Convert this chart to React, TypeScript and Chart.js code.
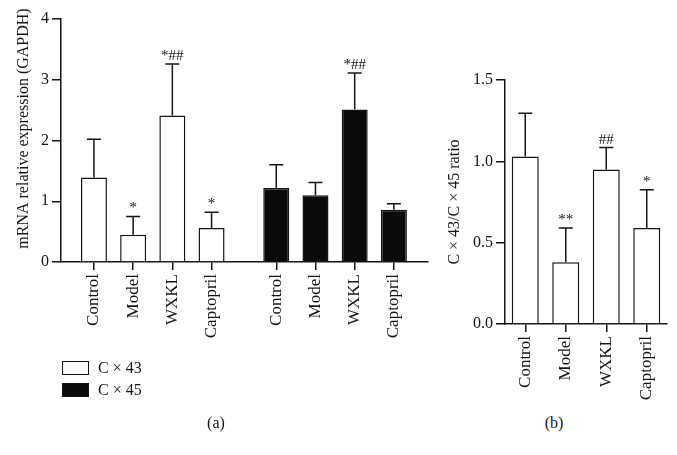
import React, { useEffect, useRef } from "react";
import { Chart, registerables } from "chart.js";

Chart.register(...registerables);

// ---- data ----
const groups = ["Control", "Model", "WXKL", "Captopril"];
const cx43Mean = [1.39, 0.45, 2.41, 0.56];
const cx43Err = [0.63, 0.3, 0.85, 0.26];
const cx43Marks = ["", "*", "*##", "*"];
const cx45Mean = [1.22, 1.1, 2.51, 0.86];
const cx45Err = [0.38, 0.21, 0.6, 0.1];
const cx45Marks = ["", "", "*##", ""];
const ratioMean = [1.03, 0.38, 0.95, 0.59];
const ratioErr = [0.265, 0.21, 0.135, 0.235];
const ratioMarks = ["", "**", "##", "*"];
const seriesNames = ["C × 43", "C × 45"];
const yTitleA = "mRNA relative expression (GAPDH)";
const yTitleB = "C × 43/C × 45 ratio";

// layout constants
const INK = "#151515";
const FONT = "'Liberation Serif', 'Times New Roman', serif";
const secondGroupStart = 4.65;
const posA = groups.map((_, i) => i);
const posB = groups.map((_, i) => secondGroupStart + i);
const allPos = [...posA, ...posB];
const allLabels = [...groups, ...groups];
const titleShift = "\u2002\u2002\u2002"; // nudges the left title toward the top

Chart.defaults.font.family = FONT;
Chart.defaults.color = INK;

const errorBarPlugin = {
  id: "errorBars",
  afterDatasetsDraw(chart: any) {
    const ctx = chart.ctx;
    const yScale = chart.scales.y;
    chart.data.datasets.forEach((ds: any, di: number) => {
      const meta = chart.getDatasetMeta(di);
      meta.data.forEach((bar: any, i: number) => {
        const d = ds.data[i];
        const v = typeof d === "number" ? d : d.y;
        const err = ds.errors ? ds.errors[i] : 0;
        const top = yScale.getPixelForValue(v + err);
        ctx.save();
        ctx.strokeStyle = INK;
        ctx.lineWidth = 1.5;
        ctx.beginPath();
        ctx.moveTo(bar.x, bar.y);
        ctx.lineTo(bar.x, top);
        ctx.moveTo(bar.x - 7, top);
        ctx.lineTo(bar.x + 7, top);
        ctx.stroke();
        const mark = ds.marks ? ds.marks[i] : "";
        if (mark) {
          ctx.fillStyle = INK;
          ctx.font = `15px ${FONT}`;
          ctx.textAlign = "center";
          ctx.textBaseline = "alphabetic";
          ctx.fillText(mark, bar.x, top - 4);
        }
        ctx.restore();
      });
    });
  },
};

function yAxis(min: number, max: number, step: number, title: string, width: number, titlePad: number, fmt?: (v: number) => string) {
  return {
    min,
    max,
    grid: { drawOnChartArea: false, drawTicks: true, tickLength: 9, color: INK, lineWidth: 1.5 },
    border: { color: INK, width: 1.5 },
    ticks: {
      stepSize: step,
      padding: 3,
      color: INK,
      font: { size: 16 },
      callback: (v: any) => (fmt ? fmt(Number(v)) : String(v)),
    },
    title: { display: true, text: title, color: INK, font: { size: 16 }, padding: { top: titlePad, bottom: 0 } },
    afterFit: (s: any) => {
      s.width = width;
    },
  };
}

export default function App() {
  const refA = useRef<HTMLCanvasElement>(null);
  const refB = useRef<HTMLCanvasElement>(null);

  useEffect(() => {
    const chartA = new Chart(refA.current!, {
      type: "bar",
      data: {
        datasets: [
          {
            label: seriesNames[0],
            data: cx43Mean.map((y, i) => ({ x: posA[i], y })),
            errors: cx43Err,
            marks: cx43Marks,
            backgroundColor: "#ffffff",
            borderColor: INK,
            borderWidth: 1.5,
            grouped: false,
            categoryPercentage: 1,
            barPercentage: 0.9,
            maxBarThickness: 26,
          } as any,
          {
            label: seriesNames[1],
            data: cx45Mean.map((y, i) => ({ x: posB[i], y })),
            errors: cx45Err,
            marks: cx45Marks,
            backgroundColor: "#0a0a0a",
            borderColor: INK,
            borderWidth: 1.5,
            grouped: false,
            categoryPercentage: 1,
            barPercentage: 0.9,
            maxBarThickness: 26,
          } as any,
        ],
      },
      options: {
        responsive: false,
        animation: false,
        layout: { padding: { top: 19, right: 12, left: 0, bottom: 0 } },
        plugins: { legend: { display: false }, tooltip: { enabled: false } },
        scales: {
          x: {
            type: "linear",
            min: -0.84,
            max: 8.52,
            offset: false,
            grid: { offset: false, drawOnChartArea: false, drawTicks: true, tickLength: 8, color: INK, lineWidth: 1.5 },
            border: { color: INK, width: 1.5 },
            afterBuildTicks: (s: any) => {
              s.ticks = allPos.map((v) => ({ value: v }));
            },
            ticks: {
              autoSkip: false,
              minRotation: 90,
              maxRotation: 90,
              padding: 4,
              color: INK,
              font: { size: 17 },
              callback: (_v: any, i: number) => allLabels[i],
            },
            afterFit: (s: any) => {
              s.height = 148;
            },
          } as any,
          y: yAxis(0, 4, 1, titleShift + yTitleA, 61, 14) as any,
        },
      },
      plugins: [errorBarPlugin],
    });

    const chartB = new Chart(refB.current!, {
      type: "bar",
      data: {
        labels: groups,
        datasets: [
          {
            label: "ratio",
            data: ratioMean,
            errors: ratioErr,
            marks: ratioMarks,
            backgroundColor: "#ffffff",
            borderColor: INK,
            borderWidth: 1.5,
            categoryPercentage: 1,
            barPercentage: 0.9,
            maxBarThickness: 27,
          } as any,
        ],
      },
      options: {
        responsive: false,
        animation: false,
        layout: { padding: { top: 80, right: 10, left: 0, bottom: 0 } },
        plugins: { legend: { display: false }, tooltip: { enabled: false } },
        scales: {
          x: {
            type: "category",
            offset: true,
            grid: { offset: false, drawOnChartArea: false, drawTicks: true, tickLength: 8, color: INK, lineWidth: 1.5 },
            border: { color: INK, width: 1.5 },
            ticks: {
              autoSkip: false,
              minRotation: 90,
              maxRotation: 90,
              padding: 4,
              color: INK,
              font: { size: 17 },
            },
            afterFit: (s: any) => {
              s.height = 86;
            },
          } as any,
          y: yAxis(0, 1.5, 0.5, yTitleB, 65, 5, (v) => v.toFixed(1)) as any,
        },
      },
      plugins: [errorBarPlugin],
    });

    return () => {
      chartA.destroy();
      chartB.destroy();
    };
  }, []);

  const text: React.CSSProperties = {
    position: "absolute",
    fontFamily: FONT,
    fontSize: 16,
    lineHeight: "16px",
    color: INK,
    whiteSpace: "nowrap",
  };

  return (
    <div style={{ position: "absolute", left: 0, top: 0, width: 677, height: 455, background: "#fff", overflow: "hidden" }}>
      <canvas ref={refA} width={440} height={410} style={{ position: "absolute", left: 0, top: 0, width: 440, height: 410 }} />
      <canvas ref={refB} width={237} height={410} style={{ position: "absolute", left: 440, top: 0, width: 237, height: 410 }} />
      <div style={{ position: "absolute", left: 62, top: 361, width: 27, height: 14, boxSizing: "border-box", border: `1.5px solid ${INK}`, background: "#fff" }} />
      <div style={{ ...text, left: 98, top: 360 }}>{seriesNames[0]}</div>
      <div style={{ position: "absolute", left: 62, top: 383, width: 27, height: 14, boxSizing: "border-box", border: `1.5px solid ${INK}`, background: "#0a0a0a" }} />
      <div style={{ ...text, left: 98, top: 382 }}>{seriesNames[1]}</div>
      <div style={{ ...text, left: 204, top: 415, width: 24, textAlign: "center" }}>(a)</div>
      <div style={{ ...text, left: 542, top: 415, width: 24, textAlign: "center" }}>(b)</div>
    </div>
  );
}
